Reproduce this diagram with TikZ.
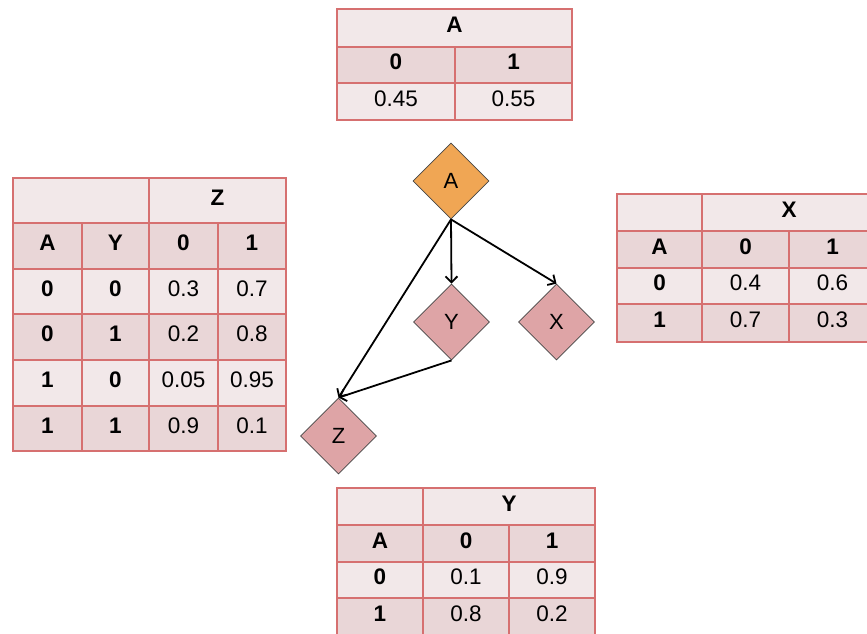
\documentclass[tikz,border=0pt]{standalone}
\usepackage{fontspec}
\setmainfont{Liberation Sans}
\usetikzlibrary{shapes.geometric,arrows.meta}
\definecolor{bordc}{RGB}{214,112,112}
\definecolor{lightc}{RGB}{242,232,233}
\definecolor{darkc}{RGB}{233,214,215}
\definecolor{orangec}{RGB}{240,166,84}
\definecolor{pinkc}{RGB}{222,164,166}
\definecolor{edgec}{RGB}{70,70,70}
\newcommand\tcell[7]{%
  \filldraw[fill=#6, draw=bordc, line width=1.2pt] (#2,#3) rectangle (#4,#5);
  \node[celltext] (#1) at ({(#2+#4)/2},{(#3+#5)/2+1}) {#7};}
\tikzset{
  celltext/.style={inner sep=0pt, text height=0.72em, text depth=0pt, font=\fontsize{22.5}{24}\selectfont},
  bn/.style={diamond, aspect=1, draw=edgec, line width=0.8pt, minimum size=76pt, inner sep=0pt,
             font=\fontsize{22}{24}\selectfont},
  conn/.style={line width=1.8pt, -{Straight Barb[length=6pt,width=12pt]}}
}
\begin{document}
\begin{tikzpicture}[x=1pt,y=-1pt]
\useasboundingbox (0,0) rectangle (867,633);
\clip (0,0) rectangle (867,633);
% Table A
\tcell{ta1}{337}{9}{572}{47}{lightc}{\bfseries A}
\tcell{ta2}{337}{47}{455}{83}{darkc}{\bfseries 0}
\tcell{ta3}{455}{47}{572}{83}{darkc}{\bfseries 1}
\tcell{ta4}{337}{83}{455}{120}{lightc}{0.45}
\tcell{ta5}{455}{83}{572}{120}{lightc}{0.55}
% Table Z
\tcell{tz00}{13}{178}{149}{223}{lightc}{}
\tcell{tz01}{149}{178}{286}{223}{lightc}{\bfseries Z}
\tcell{tz10}{13}{223}{82}{269}{darkc}{\bfseries A}
\tcell{tz11}{82}{223}{149}{269}{darkc}{\bfseries Y}
\tcell{tz12}{149}{223}{218}{269}{darkc}{\bfseries 0}
\tcell{tz13}{218}{223}{286}{269}{darkc}{\bfseries 1}
\tcell{tz20}{13}{269}{82}{314}{lightc}{\bfseries 0}
\tcell{tz21}{82}{269}{149}{314}{lightc}{\bfseries 0}
\tcell{tz22}{149}{269}{218}{314}{lightc}{0.3}
\tcell{tz23}{218}{269}{286}{314}{lightc}{0.7}
\tcell{tz30}{13}{314}{82}{360}{darkc}{\bfseries 0}
\tcell{tz31}{82}{314}{149}{360}{darkc}{\bfseries 1}
\tcell{tz32}{149}{314}{218}{360}{darkc}{0.2}
\tcell{tz33}{218}{314}{286}{360}{darkc}{0.8}
\tcell{tz40}{13}{360}{82}{406}{lightc}{\bfseries 1}
\tcell{tz41}{82}{360}{149}{406}{lightc}{\bfseries 0}
\tcell{tz42}{149}{360}{218}{406}{lightc}{0.05}
\tcell{tz43}{218}{360}{286}{406}{lightc}{0.95}
\tcell{tz50}{13}{406}{82}{451}{darkc}{\bfseries 1}
\tcell{tz51}{82}{406}{149}{451}{darkc}{\bfseries 1}
\tcell{tz52}{149}{406}{218}{451}{darkc}{0.9}
\tcell{tz53}{218}{406}{286}{451}{darkc}{0.1}
% Table X
\tcell{tx00}{617}{194}{702}{231}{lightc}{}
\tcell{tx01}{702}{194}{876}{231}{lightc}{\bfseries X}
\tcell{tx10}{617}{231}{702}{268}{darkc}{\bfseries A}
\tcell{tx11}{702}{231}{789}{268}{darkc}{\bfseries 0}
\tcell{tx12}{789}{231}{876}{268}{darkc}{\bfseries 1}
\tcell{tx20}{617}{268}{702}{304}{lightc}{\bfseries 0}
\tcell{tx21}{702}{268}{789}{304}{lightc}{0.4}
\tcell{tx22}{789}{268}{876}{304}{lightc}{0.6}
\tcell{tx30}{617}{304}{702}{342}{darkc}{\bfseries 1}
\tcell{tx31}{702}{304}{789}{342}{darkc}{0.7}
\tcell{tx32}{789}{304}{876}{342}{darkc}{0.3}
% Table Y
\tcell{ty00}{337}{488}{423}{525}{lightc}{}
\tcell{ty01}{423}{488}{595}{525}{lightc}{\bfseries Y}
\tcell{ty10}{337}{525}{423}{562}{darkc}{\bfseries A}
\tcell{ty11}{423}{525}{509}{562}{darkc}{\bfseries 0}
\tcell{ty12}{509}{525}{595}{562}{darkc}{\bfseries 1}
\tcell{ty20}{337}{562}{423}{598}{lightc}{\bfseries 0}
\tcell{ty21}{423}{562}{509}{598}{lightc}{0.1}
\tcell{ty22}{509}{562}{595}{598}{lightc}{0.9}
\tcell{ty30}{337}{598}{423}{636}{darkc}{\bfseries 1}
\tcell{ty31}{423}{598}{509}{636}{darkc}{0.8}
\tcell{ty32}{509}{598}{595}{636}{darkc}{0.2}
% Network
\node[bn, fill=orangec] (A) at (451,181) {A};
\node[bn, fill=pinkc] (Y) at (451.5,322) {Y};
\node[bn, fill=pinkc] (X) at (556.5,322) {X};
\node[bn, fill=pinkc] (Z) at (338.5,436) {Z};
\draw[conn] (A.south) -- (Y.north);
\draw[conn] (A.south) -- (X.north);
\draw[conn] (A.south) -- (Z.north);
\draw[conn] (Y.south) -- (Z.north);
\end{tikzpicture}
\end{document}
